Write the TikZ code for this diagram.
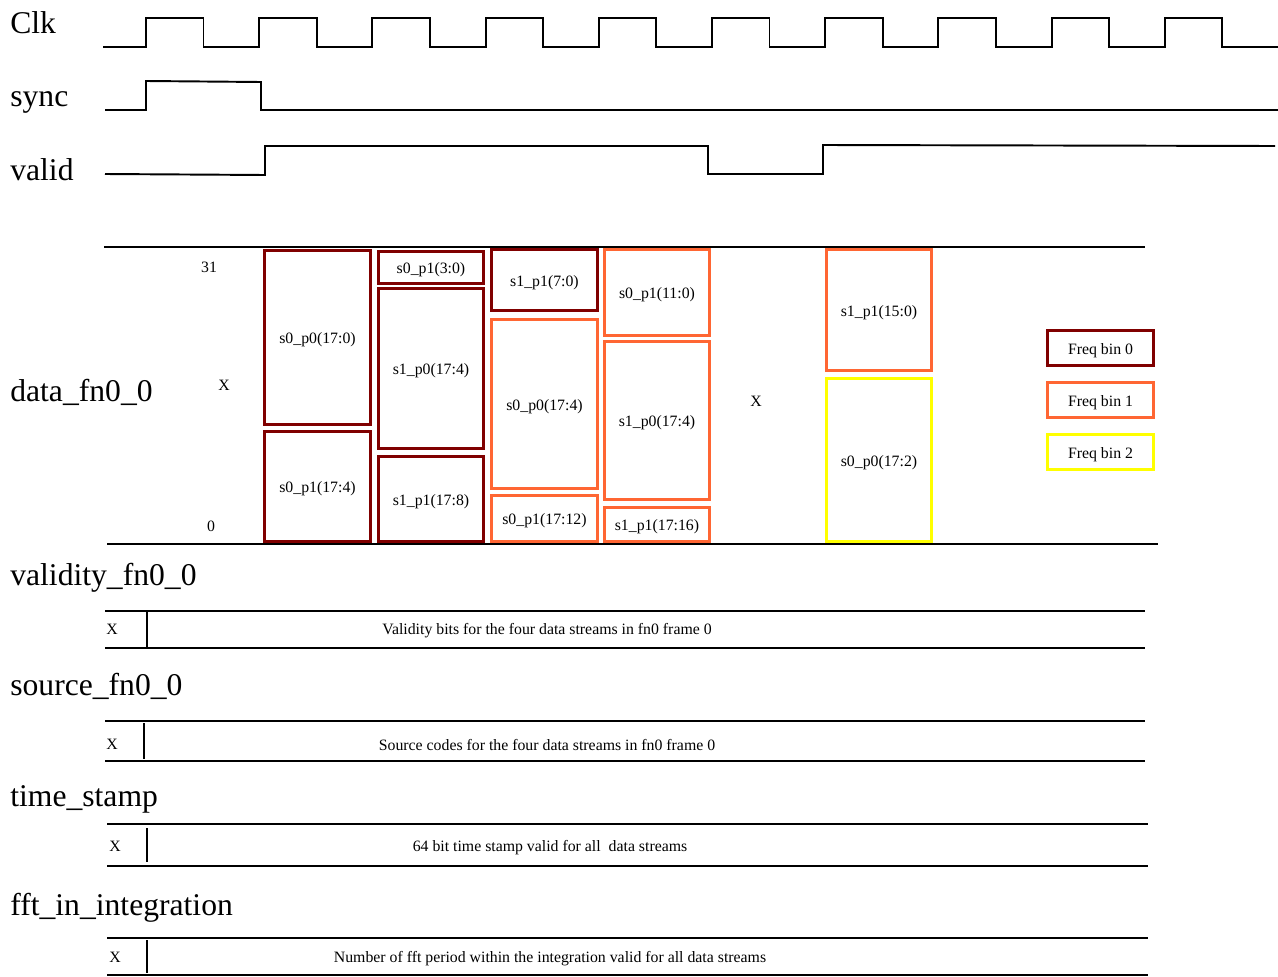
\documentclass[tikz,border=0pt]{standalone}
\usepackage{fontspec}
\setmainfont{Liberation Serif}
\usepackage{xcolor}
\usepackage{tikz}
\definecolor{binzero}{HTML}{800000}
\definecolor{binone}{HTML}{FF6633}
\definecolor{bintwo}{HTML}{FFFF00}

\begin{document}
\begin{tikzpicture}[x=0.02cm, y=-0.02cm,
  sig/.style={line width=1.1pt, line join=miter},
  signame/.style={anchor=base west, inner sep=0pt, font=\fontsize{18}{20}\selectfont},
  txt/.style={inner sep=0pt, text height=0.92em, text depth=0.2em, font=\fontsize{9}{10}\selectfont},
  bits/.style={draw, line width=1.9pt, inner sep=0pt, text height=0.92em, text depth=0.2em,
    font=\fontsize{9}{10}\selectfont},
  bin0/.style={bits, draw=binzero},
  bin1/.style={bits, draw=binone},
  bin2/.style={bits, draw=bintwo}]
\useasboundingbox (0,0) rectangle (1278,977);
% 信号名
\node[signame] (clk) at (10,33) {Clk};
\node[signame] (sync) at (10,106) {sync};
\node[signame] (valid) at (10,180) {valid};
\node[signame] (data) at (10,401) {data\_fn0\_0};
\node[signame] (vld) at (10,585) {validity\_fn0\_0};
\node[signame] (src) at (10,695) {source\_fn0\_0};
\node[signame] (ts) at (10,806) {time\_stamp};
\node[signame] (fft) at (10,915) {fft\_in\_integration};
% 波形
\draw[sig] (103,47) foreach \i in {0,...,9} {
  -- ({146+113.2*\i},47) -- ({146+113.2*\i},18) -- ({203.5+113.2*\i},18) -- ({203.5+113.2*\i},47)
} -- (1278,47);
\draw[sig] (105,110) -- (146,110) -- (146,81) -- (261,82) -- (261,110) -- (1278,110);
\draw[sig] (105,174) -- (265,175) -- (265,146) -- (708,146) -- (708,174) -- (823,174)
  -- (823,145) -- (1275,146);
% data_fn0_0
\draw[sig] (104,247) -- (1145,247);
\draw[sig] (107,544) -- (1158,544);
\node[txt] (msb) at (209,266) {31};
\node[txt] (lsb) at (211,525) {0};
\node[txt] (x1) at (224,384) {X};
\node[txt] (x2) at (756,400) {X};
\node[bin0, minimum width=2.12cm, minimum height=3.48cm] (a0) at (317.5,337.5) {s0\_p0(17:0)};
\node[bin0, minimum width=2.12cm, minimum height=2.20cm] (a1) at (317.5,486.5) {s0\_p1(17:4)};
\node[bin0, minimum width=2.10cm, minimum height=0.64cm] (b0) at (431,267.5) {s0\_p1(3:0)};
\node[bin0, minimum width=2.10cm, minimum height=3.20cm] (b1) at (431,368.5) {s1\_p0(17:4)};
\node[bin0, minimum width=2.10cm, minimum height=1.70cm] (b2) at (431,499) {s1\_p1(17:8)};
\node[bin0, minimum width=2.12cm, minimum height=1.22cm] (c0) at (544.5,280) {s1\_p1(7:0)};
\node[bin1, minimum width=2.12cm, minimum height=3.38cm] (c1) at (544.5,404) {s0\_p0(17:4)};
\node[bin1, minimum width=2.12cm, minimum height=0.92cm] (c2) at (544.5,518.5) {s0\_p1(17:12)};
\node[bin1, minimum width=2.10cm, minimum height=1.72cm] (d0) at (657,292.5) {s0\_p1(11:0)};
\node[bin1, minimum width=2.10cm, minimum height=3.16cm] (d1) at (657,420.5) {s1\_p0(17:4)};
\node[bin1, minimum width=2.10cm, minimum height=0.68cm] (d2) at (657,524.5) {s1\_p1(17:16)};
\node[bin1, minimum width=2.10cm, minimum height=2.42cm] (e0) at (879,310) {s1\_p1(15:0)};
\node[bin2, minimum width=2.10cm, minimum height=3.26cm] (e1) at (879,460) {s0\_p0(17:2)};
% 图例
\node[bin0, minimum width=2.12cm, minimum height=0.70cm] (leg0) at (1100.5,348) {Freq bin 0};
\node[bin1, minimum width=2.12cm, minimum height=0.70cm] (leg1) at (1100.5,400) {Freq bin 1};
\node[bin2, minimum width=2.12cm, minimum height=0.70cm] (leg2) at (1100.5,452) {Freq bin 2};
% 总线
\draw[sig] (105,611) -- (1145,611) (105,648) -- (1145,648) (147,611) -- (147,648);
\node[txt] (vx) at (112,628) {X};
\node[txt] (vtxt) at (547,628) {Validity bits for the four data streams in fn0 frame 0};
\draw[sig] (105,721) -- (1145,721) (105,761) -- (1145,761) (144,723) -- (144,759);
\node[txt] (sx) at (112,743) {X};
\node[txt] (stxt) at (547,744) {Source codes for the four data streams in fn0 frame 0};
\draw[sig] (107,824) -- (1148,824) (107,866) -- (1148,866) (147,828) -- (147,862);
\node[txt] (tx) at (115,845) {X};
\node[txt] (ttxt) at (550,845) {64 bit time stamp valid for all\ \ data streams};
\draw[sig] (107,938) -- (1148,938) (107,975) -- (1148,975) (147,940) -- (147,973);
\node[txt] (fx) at (115,956) {X};
\node[txt] (ftxt) at (550,956) {Number of fft period within the integration valid for all data streams};
\end{tikzpicture}
\end{document}
